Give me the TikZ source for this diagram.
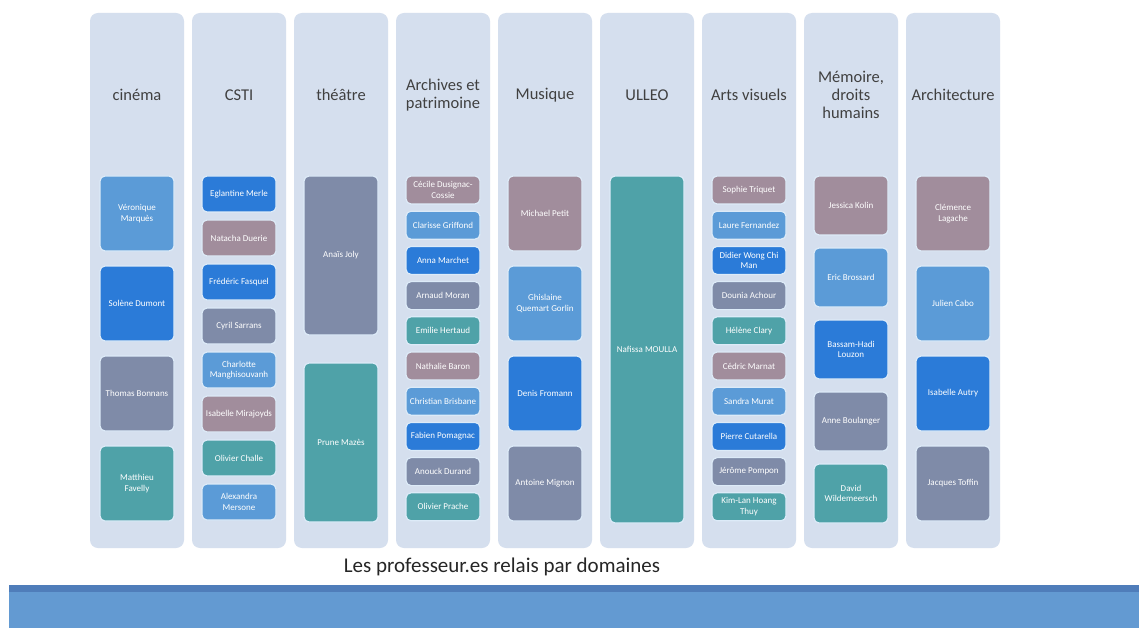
\documentclass[tikz,border=0pt]{standalone}
\usepackage{fontspec}
\setmainfont{Carlito}

\definecolor{fond}{HTML}{D5DFEE}
\definecolor{bord}{HTML}{DDEBF8}
\definecolor{mauve}{HTML}{A18D9C}
\definecolor{bleumoyen}{HTML}{5B9BD7}
\definecolor{bleuvif}{HTML}{2B7BD8}
\definecolor{ardoise}{HTML}{7F8BA8}
\definecolor{sarcelle}{HTML}{4FA2A8}
\definecolor{titregris}{HTML}{404040}
\definecolor{bandefonce}{HTML}{4F7DBA}
\definecolor{bandeclair}{HTML}{639AD2}

\tikzset{
    domaine/.style={fill=fond, rounded corners=8pt, minimum width=94pt, minimum height=535pt, inner sep=0pt},
    titre/.style={text=titregris, font=\fontsize{16.5}{18}\selectfont, align=center},
    prof/.style={draw=bord, line width=1.2pt, rounded corners=5pt, minimum width=74pt, inner sep=1pt,
        text=white, font=\fontsize{9}{10.5}\selectfont, align=center},
    legende/.style={text=black!85, font=\fontsize{21}{24}\selectfont}
}

% #1 colonne, #2 hauteur d'une boite, #3 pas vertical, #4 couleur/nom
\newcommand{\profs}[4]{%
    \foreach \couleur/\nom [count=\idx] in {#4}
        \node[prof, fill=\couleur, minimum height=#2pt] (b#1-\idx) at ({137+102*(#1-1)},{176+#2/2+(\idx-1)*#3}) {\nom};
}

\begin{document}
\begin{tikzpicture}[x=1pt, y=-1pt]
    \useasboundingbox[fill=white] (0,0) rectangle (1139,628);

    % les colonnes et leurs titres
    \foreach \titre [count=\c] in {cinéma, CSTI, théâtre, {Archives et\\patrimoine}, Musique, ULLEO, Arts visuels, {Mémoire,\\droits\\humains}, Architecture} {
        \node[domaine] (col\c) at ({137+102*(\c-1)},280.5) {};
        \node[titre] (titre\c) at ({137+102*(\c-1)},95) {\titre};
    }

    % les professeur.es
    \profs{1}{75}{90}{bleumoyen/Véronique\\Marquès, bleuvif/Solène Dumont, ardoise/Thomas Bonnans, sarcelle/Matthieu\\Favelly}
    \profs{2}{36}{44}{bleuvif/Eglantine Merle, mauve/Natacha Duerie, bleuvif/Frédéric Fasquel, ardoise/Cyril Sarrans,
        bleumoyen/Charlotte\\Manghisouvanh, mauve/Isabelle Mirajoyds, sarcelle/Olivier Challe, bleumoyen/Alexandra\\Mersone}
    \profs{3}{159}{187}{ardoise/Anaïs Joly, sarcelle/Prune Mazès}
    \profs{4}{28}{35.2}{mauve/Cécile Dusignac-\\Cossie, bleumoyen/Clarisse Griffond, bleuvif/Anna Marchet, ardoise/Arnaud Moran,
        sarcelle/Emilie Hertaud, mauve/Nathalie Baron, bleumoyen/Christian Brisbane, bleuvif/Fabien Pomagnac,
        ardoise/Anouck Durand, sarcelle/Olivier Prache}
    \profs{5}{75}{90}{mauve/Michael Petit, bleumoyen/Ghislaine\\Quemart Gorlin, bleuvif/Denis Fromann, ardoise/Antoine Mignon}
    \profs{6}{347}{0}{sarcelle/Nafissa MOULLA}
    \profs{7}{28}{35.2}{mauve/Sophie Triquet, bleumoyen/Laure Fernandez, bleuvif/Didier Wong Chi\\Man, ardoise/Dounia Achour,
        sarcelle/Hélène Clary, mauve/Cédric Marnat, bleumoyen/Sandra Murat, bleuvif/Pierre Cutarella,
        ardoise/Jérôme Pompon, sarcelle/Kim-Lan Hoang\\Thuy}
    \profs{8}{59}{72}{mauve/Jessica Kolin, bleumoyen/Eric Brossard, bleuvif/Bassam-Hadi\\Louzon, ardoise/Anne Boulanger,
        sarcelle/David\\Wildemeersch}
    \profs{9}{75}{90}{mauve/Clémence\\Lagache, bleumoyen/Julien Cabo, bleuvif/Isabelle Autry, ardoise/Jacques Toffin}

    % bandeau du bas
    \node[legende] (legende) at (502,567) {Les professeur.es relais par domaines};
    \fill[bandefonce] (9,585) rectangle (1139,592);
    \fill[bandeclair] (9,592) rectangle (1139,628);
\end{tikzpicture}
\end{document}
